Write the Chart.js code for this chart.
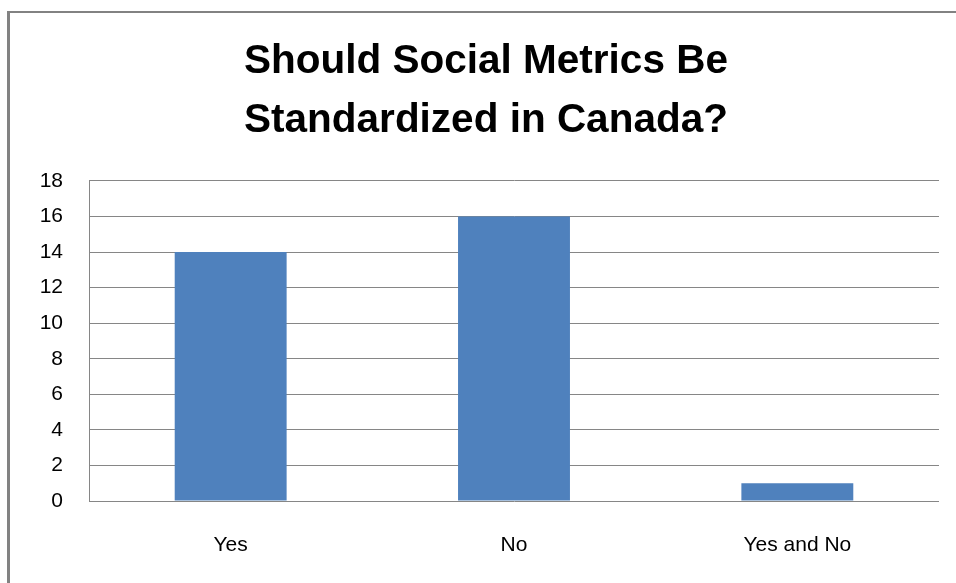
<!DOCTYPE html>
<html>
<head>
<meta charset="utf-8">
<script src="https://cdn.jsdelivr.net/npm/chart.js@4.4.0/dist/chart.umd.min.js"></script>
<style>
  html, body { margin: 0; padding: 0; background: #fff; }
  #wrap { width: 956px; height: 583px; position: relative; }
</style>
</head>
<body>
<div id="wrap"><canvas id="c" width="956" height="583"></canvas></div>
<script>
const categories = ["Yes", "No", "Yes and No"];
const responses = [14, 16, 1];
const titleLines = ["Should Social Metrics Be", "Standardized in Canada?"];
const yMin = 0, yMax = 18, yStep = 2;

const frame = {
  id: 'frame',
  beforeDraw(chart) {
    const ctx = chart.ctx;
    ctx.save();
    ctx.fillStyle = '#fff';
    ctx.fillRect(0, 0, chart.width, chart.height);
    ctx.fillStyle = '#828282';
    ctx.fillRect(7, 11, chart.width - 7, 2);
    ctx.fillRect(7, 11, 3, chart.height - 11);
    ctx.restore();
  }
};

new Chart(document.getElementById('c'), {
  type: 'bar',
  data: {
    labels: categories,
    datasets: [{
      data: responses,
      backgroundColor: '#4F81BD',
      borderWidth: 0,
      barPercentage: 0.395,
      categoryPercentage: 1.0
    }]
  },
  options: {
    responsive: false,
    animation: false,
    layout: { padding: { left: 33, right: 17, top: 0, bottom: 0 } },
    plugins: {
      legend: { display: false },
      tooltip: { enabled: false },
      title: {
        display: true,
        text: titleLines,
        color: '#000',
        font: { family: "'Liberation Sans', Arial, sans-serif", size: 40.5, weight: 'bold', lineHeight: 1.444 },
        padding: { top: 33, bottom: 31 }
      }
    },
    scales: {
      x: {
        grid: { display: false, drawTicks: false },
        border: { display: false },
        ticks: {
          color: '#000',
          padding: 32,
          font: { family: "'Liberation Sans', Arial, sans-serif", size: 21 }
        },
        afterFit(scale) { scale.height = 82; }
      },
      y: {
        min: yMin, max: yMax,
        grid: { color: '#868686', lineWidth: 1, drawTicks: false },
        border: { display: true, color: '#868686', width: 1 },
        ticks: {
          stepSize: yStep,
          color: '#000',
          padding: 26,
          font: { family: "'Liberation Sans', Arial, sans-serif", size: 21 }
        },
        afterFit(scale) { scale.width = 56; }
      }
    }
  },
  plugins: [frame]
});
</script>
</body>
</html>
